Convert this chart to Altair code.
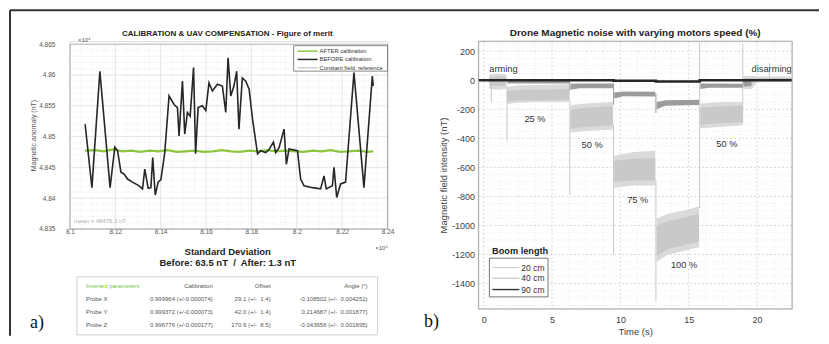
import altair as alt
import pandas as pd

FONT = "Liberation Sans"
SERIF = "Liberation Serif"

# ---------------- a) calibration figure of merit ----------------
a_before_x = [81067, 81097, 81132, 81177, 81198, 81210, 81225, 81239, 81254, 81276,
              81305, 81320, 81330, 81345, 81357, 81365, 81376, 81389, 81401, 81418,
              81437, 81459, 81474, 81481, 81496, 81506, 81518, 81530, 81545, 81554,
              81565, 81584, 81599, 81613, 81628, 81650, 81672, 81687, 81697, 81709,
              81723, 81735, 81745, 81760, 81775, 81790, 81805, 81827, 81841, 81863,
              81876, 81897, 81907, 81922, 81944, 81954, 81966, 82003, 82017, 82032,
              82069, 82105, 82120, 82130, 82157, 82164, 82176, 82193, 82215, 82252,
              82296, 82333, 82337]
a_before_y = [48520, 48417, 48606, 48417, 48483, 48477, 48442, 48439, 48431, 48426,
              48420, 48415, 48447, 48416, 48417, 48466, 48405, 48426, 48430, 48474,
              48566, 48552, 48547, 48501, 48590, 48504, 48539, 48533, 48612, 48472,
              48547, 48550, 48542, 48587, 48574, 48585, 48582, 48539, 48628, 48566,
              48582, 48606, 48512, 48595, 48590, 48577, 48528, 48472, 48477, 48474,
              48478, 48491, 48474, 48482, 48512, 48455, 48480, 48477, 48431, 48420,
              48417, 48415, 48436, 48415, 48420, 48450, 48401, 48423, 48426, 48604,
              48417, 48598, 48582]
a_after_x = [81067, 81110, 81150, 81190, 81230, 81270, 81310, 81350, 81390, 81430,
             81470, 81510, 81550, 81590, 81630, 81670, 81710, 81750, 81790, 81830,
             81870, 81910, 81950, 81990, 82030, 82070, 82110, 82150, 82190, 82230,
             82270, 82310, 82337]
a_after_y = [48477, 48478, 48476, 48479, 48476, 48477, 48475, 48477, 48476, 48478,
             48475, 48476, 48477, 48475, 48476, 48478, 48476, 48475, 48477, 48476,
             48478, 48476, 48477, 48476, 48475, 48477, 48476, 48478, 48475, 48476,
             48477, 48475, 48476]
a_xticks = [81000, 81200, 81400, 81600, 81800, 82000, 82200, 82400]
a_yticks = [48350, 48400, 48450, 48500, 48550, 48600, 48650]
a_legend = ["AFTER calibration", "BEFORE calibration", "Constant field, reference"]
a_header = ["Inverted parameters", "Calibration", "Offset", "Angle (°)"]
a_probes = ["Probe X", "Probe Y", "Probe Z"]
a_calib = ["0.999964 (+/-0.000074)", "0.999372 (+/-0.000073)", "0.996776 (+/-0.000177)"]
a_offset = ["29.1 (+/-\u00a0 1.4)", "42.0 (+/-\u00a0 1.4)", "170.9 (+/-\u00a0 8.5)"]
a_angle = ["-0.108502 (+/-\u00a0 0.004251)", "0.214687 (+/-\u00a0 0.001877)",
           "-0.043656 (+/-\u00a0 0.001895)"]

# ---------------- b) drone magnetic noise ----------------
b20_seg = ["arm"] * 3 + ["s25"] * 5 + ["s50"] * 3 + ["s75"] * 3 + ["s100"] * 4 + ["s50b"] * 3 + ["dis"] * 4
b20_t = [0.40, 1.00, 1.65,
         1.72, 2.5, 4.0, 5.5, 6.28,
         6.35, 7.5, 9.45,
         9.55, 11.0, 12.55,
         12.65, 13.5, 14.5, 15.75,
         15.85, 17.5, 18.95,
         19.0, 19.6, 20.0, 22.5]
b20_hi_out = [40, 45, 40, -45, -35, -32, -30, -30, -170, -160, -150, -520, -495, -485,
              -950, -920, -900, -870, -160, -150, -150, 30, 30, 25, 25]
b20_lo_out = [-60, -65, -60, -165, -155, -150, -150, -148, -360, -350, -340, -740, -725, -725,
              -1250, -1200, -1180, -1150, -330, -320, -310, -60, -60, -15, -10]
b20_hi_in = [22, 25, 22, -75, -68, -65, -62, -60, -200, -190, -180, -555, -540, -535,
             -1000, -970, -950, -920, -190, -180, -175, 15, 15, 15, 15]
b20_lo_in = [-35, -40, -35, -150, -140, -138, -135, -135, -335, -320, -310, -700, -690, -690,
             -1210, -1160, -1140, -1110, -305, -295, -290, -30, -25, -5, -3]

b40_seg = ["s25"] * 2 + ["s50"] * 3 + ["s75"] * 3 + ["s100"] * 3 + ["s50b"] * 3 + ["dis"] * 2
b40_t = [1.72, 6.28, 6.35, 7.0, 9.45, 9.55, 10.2, 12.55, 12.65, 13.3, 15.75,
         15.85, 16.5, 18.95, 19.0, 19.6]
b40_hi = [-5, -5, -25, -22, -22, -85, -78, -80, -150, -138, -135, -22, -22, -25, -5, -5]
b40_lo = [-22, -22, -65, -55, -55, -125, -110, -112, -200, -175, -170, -60, -52, -52, -45, -40]

b90_t = [-0.39, 9.5, 9.5, 12.6, 12.6, 15.8, 15.8, 22.56]
b90_v = [0, 0, -4, -4, -9, -9, 0, 0]

b_spike20_t = [0.55, 1.70, 6.30, 9.50, 12.60, 15.80, 18.95, 20.90]
b_spike20_top = [10, -40, -140, -300, -690, 258, 250, 120]
b_spike20_bot = [-150, -420, -790, -1200, -1525, -880, -300, 0]
b_spike40_t = [6.30, 9.50, 12.60]
b_spike40_top = [0, -20, -90]
b_spike40_bot = [-70, -170, -225]

b_ann_text = ["arming", "25 %", "50 %", "75 %", "100 %", "50 %", "disarming"]
b_ann_t = [1.44, 3.75, 7.93, 11.27, 14.66, 17.79, 21.07]
b_ann_v = [76, -264, -447, -823, -1272, -436, 76]
b_xticks = [0, 5, 10, 15, 20]
b_yticks = [-1400, -1200, -1000, -800, -600, -400, -200, 0, 200]
b_legend = ["20 cm", "40 cm", "90 cm"]

C20, C40, C90 = "#c9c9c9", "#9c9c9c", "#262626"
ONE = pd.DataFrame({"k": [0]})


def txt(s, x, y, size, color="#333333", bold=False, align="left", baseline="middle", font=FONT):
    return alt.Chart(ONE).mark_text(
        text=s, fontSize=size, color=color, align=align, baseline=baseline, font=font,
        fontWeight="bold" if bold else "normal",
    ).encode(x=alt.value(x), y=alt.value(y))


def hrule(x1, x2, y, color, w=1.0):
    return alt.Chart(ONE).mark_rule(color=color, strokeWidth=w).encode(
        x=alt.value(x1), x2=alt.value(x2), y=alt.value(y))


def vrule(x, y1, y2, color, w=1.0):
    return alt.Chart(ONE).mark_rule(color=color, strokeWidth=w).encode(
        x=alt.value(x), y=alt.value(y1), y2=alt.value(y2))


def box(x1, x2, y1, y2, stroke, fill="white", w=0.8):
    return alt.Chart(ONE).mark_rect(fill=fill, stroke=stroke, strokeWidth=w).encode(
        x=alt.value(x1), x2=alt.value(x2), y=alt.value(y1), y2=alt.value(y2))


# ================= panel a =================
AW, AH = 318, 188
A_TOP = 3  # frame top inside view (pixels)
a_xs = alt.Scale(domain=[81000, 82400], nice=False, zero=False)
a_ys = alt.Scale(domain=[48350, 48654.85], nice=False, zero=False)

a_minor_x = [v for v in range(81050, 82400, 50) if v % 200 != 0]
a_minor_y = [v for v in range(48360, 48650, 10) if v % 50 != 0]

a_layers = []
a_layers.append(alt.Chart(pd.DataFrame({"x": a_before_x, "y": a_before_y})).mark_line(
    strokeWidth=0, opacity=0).encode(
    x=alt.X("x:Q", scale=a_xs, title=None, axis=alt.Axis(
        values=a_xticks, tickCount=50, labelExpr="format(datum.value / 10000, '.3~f')",
        grid=False, domain=False, ticks=False, labelFont=FONT, labelFontSize=6.5,
        labelColor="#555555", labelPadding=0, labelFlush=False, labelOverlap=False)),
    y=alt.Y("y:Q", scale=a_ys, title="Magnetic anomaly (nT)", axis=alt.Axis(
        values=a_yticks, tickCount=50, labelExpr="format(datum.value / 10000, '.3~f')",
        grid=False, domain=False, ticks=False, labelFont=FONT, labelFontSize=6.5,
        labelColor="#555555", labelPadding=15, labelFlush=False, labelOverlap=False,
        titleFont=FONT, titleFontSize=7, titleFontWeight="normal", titleColor="#555555",
        titlePadding=2))))
a_layers.append(alt.Chart(pd.DataFrame({"x": a_minor_x})).mark_rule(
    color="#e6e6e6", strokeWidth=0.6, strokeDash=[1, 1]).encode(
    x=alt.X("x:Q", scale=a_xs), y=alt.value(A_TOP), y2=alt.value(AH)))
a_layers.append(alt.Chart(pd.DataFrame({"y": a_minor_y})).mark_rule(
    color="#e6e6e6", strokeWidth=0.6, strokeDash=[1, 1]).encode(
    y=alt.Y("y:Q", scale=a_ys), x=alt.value(0), x2=alt.value(AW)))
a_layers.append(alt.Chart(pd.DataFrame({"x": a_xticks[1:-1]})).mark_rule(
    color="#d9d9d9", strokeWidth=0.7).encode(
    x=alt.X("x:Q", scale=a_xs), y=alt.value(A_TOP), y2=alt.value(AH)))
a_layers.append(alt.Chart(pd.DataFrame({"y": a_yticks[1:-1]})).mark_rule(
    color="#d9d9d9", strokeWidth=0.7).encode(
    y=alt.Y("y:Q", scale=a_ys), x=alt.value(0), x2=alt.value(AW)))
a_layers.append(box(0, AW, A_TOP, AH, "#9a9a9a", fill="transparent", w=0.8))

a_layers.append(alt.Chart(pd.DataFrame({"x": a_after_x, "y": a_after_y})).mark_line(
    color="#8cc63f", strokeWidth=2.2).encode(
    x=alt.X("x:Q", scale=a_xs), y=alt.Y("y:Q", scale=a_ys)))
a_layers.append(alt.Chart(pd.DataFrame({"x": a_before_x, "y": a_before_y,
                                        "i": list(range(len(a_before_x)))})).mark_line(
    color="#262626", strokeWidth=1.6).encode(
    x=alt.X("x:Q", scale=a_xs), y=alt.Y("y:Q", scale=a_ys), order="i:Q"))

# legend (top right, inside)
a_layers.append(box(224, 318, 4.5, 30, "#555555", w=0.7))
a_layers.append(hrule(228, 248, 10, "#8cc63f", 1.5))
a_layers.append(hrule(228, 248, 18.3, "#2a2a2a", 1.5))
a_layers.append(hrule(228, 248, 26.7, "#9a9a9a", 0.7))
for lab, yy in zip(a_legend, [10, 18.3, 26.7]):
    a_layers.append(txt(lab, 250, yy, 5.8, "#333333"))

a_layers.append(txt("CALIBRATION & UAV COMPENSATION - Figure of merit", 157.5, -7, 8,
                    "#222222", bold=True, align="center"))
a_layers.append(txt("\u00d710\u2074", 8, -1, 6, "#555555"))
a_layers.append(txt("\u00d710\u2074", 312, 206.7, 6, "#555555", align="center"))
a_layers.append(txt("mean = 48476.3 nT", 4, 180, 6, "#b0b0b0"))
a_layers.append(txt("Standard Deviation", 158, 210.7, 9.5, "#222222", bold=True, align="center"))
a_layers.append(txt("Before: 63.5 nT\u00a0 /\u00a0 After: 1.3 nT", 158, 221.7, 9.5, "#222222",
                    bold=True, align="center"))

# parameter table
a_layers.append(box(7, 308, 236, 294, "#c4c4c4", w=0.8))
rows_y = [245, 258.5, 271.5, 284.5]
a_layers.append(txt(a_header[0], 16, rows_y[0], 6, "#7cc242"))
for h, xr in zip(a_header[1:], [143, 201, 298]):
    a_layers.append(txt(h, xr, rows_y[0], 6, "#555555", align="right"))
for i in range(3):
    yy = rows_y[i + 1]
    a_layers.append(txt(a_probes[i], 16, yy, 6, "#555555"))
    a_layers.append(txt(a_calib[i], 143, yy, 6, "#555555", align="right"))
    a_layers.append(txt(a_offset[i], 201, yy, 6, "#555555", align="right"))
    a_layers.append(txt(a_angle[i], 298, yy, 6, "#555555", align="right"))

a_layers.append(txt("a)", -33, 282, 18, "#111111", align="center", font=SERIF))
# outer frame of the figure
a_layers.append(hrule(-60, 750, -31, "#333333", 2))
a_layers.append(vrule(-60, -31, 295, "#333333", 2))

panel_a = alt.layer(*a_layers).properties(width=AW, height=AH)

# ================= panel b =================
BW, BH = 314, 268
b_xs = alt.Scale(domain=[-0.39, 22.56], nice=False, zero=False)
b_ys = alt.Scale(domain=[-1574, 269], nice=False, zero=False)
b_minor_x = [k * 1.25 for k in range(1, 19) if k % 4 != 0]
b_minor_y = [v for v in range(-1550, 269, 50) if v % 200 != 0]

b_layers = []
b_layers.append(alt.Chart(pd.DataFrame({"t": b90_t, "v": b90_v})).mark_line(
    strokeWidth=0, opacity=0).encode(
    x=alt.X("t:Q", scale=b_xs, title="Time (s)", axis=alt.Axis(
        values=b_xticks, tickCount=50, labelExpr="'' + datum.value", grid=False, domain=False,
        ticks=False, labelFont=FONT, labelFontSize=9, labelColor="#404040", labelPadding=7,
        labelFlush=False, labelOverlap=False, titleFont=FONT, titleFontSize=9.5,
        titleFontWeight="normal", titleColor="#404040", titlePadding=2)),
    y=alt.Y("v:Q", scale=b_ys, title="Magnetic field intensity (nT)", axis=alt.Axis(
        values=b_yticks, tickCount=50, labelExpr="'' + datum.value", grid=False, domain=False,
        ticks=False, labelFont=FONT, labelFontSize=9, labelColor="#404040", labelPadding=4,
        labelFlush=False, labelOverlap=False, titleFont=FONT, titleFontSize=9.5,
        titleFontWeight="normal", titleColor="#404040", titlePadding=3))))
b_layers.append(alt.Chart(pd.DataFrame({"t": b_minor_x})).mark_rule(
    color="#dedede", strokeWidth=0.6, strokeDash=[1, 2]).encode(
    x=alt.X("t:Q", scale=b_xs), y=alt.value(0), y2=alt.value(BH)))
b_layers.append(alt.Chart(pd.DataFrame({"v": b_minor_y})).mark_rule(
    color="#dedede", strokeWidth=0.6, strokeDash=[1, 2]).encode(
    y=alt.Y("v:Q", scale=b_ys), x=alt.value(0), x2=alt.value(BW)))
b_layers.append(alt.Chart(pd.DataFrame({"t": b_xticks})).mark_rule(
    color="#c8c8c8", strokeWidth=0.7, strokeDash=[2, 2]).encode(
    x=alt.X("t:Q", scale=b_xs), y=alt.value(0), y2=alt.value(BH)))
b_layers.append(alt.Chart(pd.DataFrame({"v": b_yticks})).mark_rule(
    color="#c8c8c8", strokeWidth=0.7, strokeDash=[2, 2]).encode(
    y=alt.Y("v:Q", scale=b_ys), x=alt.value(0), x2=alt.value(BW)))

df20 = pd.DataFrame({"seg": b20_seg, "t": b20_t, "v": b20_hi_out, "lo": b20_lo_out,
                     "hi": b20_hi_in, "li": b20_lo_in})
b_layers.append(alt.Chart(df20).mark_area(color="#dadada", opacity=1).encode(
    x=alt.X("t:Q", scale=b_xs), y=alt.Y("v:Q", scale=b_ys), y2="lo:Q", detail="seg:N"))
b_layers.append(alt.Chart(df20.drop(columns=["v"]).rename(columns={"hi": "v"})).mark_area(
    color=C20, opacity=1).encode(
    x=alt.X("t:Q", scale=b_xs), y=alt.Y("v:Q", scale=b_ys), y2="li:Q", detail="seg:N"))
b_layers.append(alt.Chart(pd.DataFrame({"t": b_spike20_t, "v": b_spike20_top, "b": b_spike20_bot}))
                .mark_rule(color=C20, strokeWidth=1).encode(
    x=alt.X("t:Q", scale=b_xs), y=alt.Y("v:Q", scale=b_ys), y2="b:Q"))
df40 = pd.DataFrame({"seg": b40_seg, "t": b40_t, "v": b40_hi, "lo": b40_lo})
b_layers.append(alt.Chart(df40).mark_area(color=C40, opacity=1).encode(
    x=alt.X("t:Q", scale=b_xs), y=alt.Y("v:Q", scale=b_ys), y2="lo:Q", detail="seg:N"))
b_layers.append(alt.Chart(pd.DataFrame({"t": b_spike40_t, "v": b_spike40_top, "b": b_spike40_bot}))
                .mark_rule(color=C40, strokeWidth=1).encode(
    x=alt.X("t:Q", scale=b_xs), y=alt.Y("v:Q", scale=b_ys), y2="b:Q"))
b_layers.append(alt.Chart(pd.DataFrame({"t": b90_t, "v": b90_v, "i": list(range(len(b90_t)))}))
                .mark_line(color=C90, strokeWidth=2.6).encode(
    x=alt.X("t:Q", scale=b_xs), y=alt.Y("v:Q", scale=b_ys), order="i:Q"))
b_layers.append(alt.Chart(pd.DataFrame({"t": b_ann_t, "v": b_ann_v, "s": b_ann_text}))
                .mark_text(font=FONT, fontSize=9.3, color="#333333", align="center",
                           baseline="middle").encode(
    x=alt.X("t:Q", scale=b_xs), y=alt.Y("v:Q", scale=b_ys), text="s:N"))
b_layers.append(box(0, BW, 0, BH, "#9a9a9a", fill="transparent", w=0.8))

# legend "Boom length"
b_layers.append(txt("Boom length", 13.7, 210, 9.2, "#222222", bold=True))
b_layers.append(box(11, 69.7, 217.3, 256, "#555555", w=0.8))
for lab, yy, col, w in zip(b_legend, [226.7, 237.3, 248.7], ["#bdbdbd", "#a8a8a8", "#333333"],
                           [0.8, 0.8, 1.4]):
    b_layers.append(hrule(14, 41, yy, col, w))
    b_layers.append(txt(lab, 43, yy, 8.5, "#333333"))

b_layers.append(txt("Drone Magnetic noise with varying motors speed (%)", 157, -8, 10,
                    "#222222", bold=True, align="center"))
b_layers.append(txt("b)", -47, 281, 18, "#111111", align="center", font=SERIF))

panel_b = alt.layer(*b_layers).properties(width=BW, height=BH)

chart = alt.hconcat(panel_a, panel_b, spacing=91, bounds="flush").properties(
    padding={"left": 0, "top": 0, "right": 0, "bottom": 0}
).configure_view(strokeOpacity=0).configure(font=FONT)

chart.save("out.html", embed_options={"renderer": "svg", "actions": False})
